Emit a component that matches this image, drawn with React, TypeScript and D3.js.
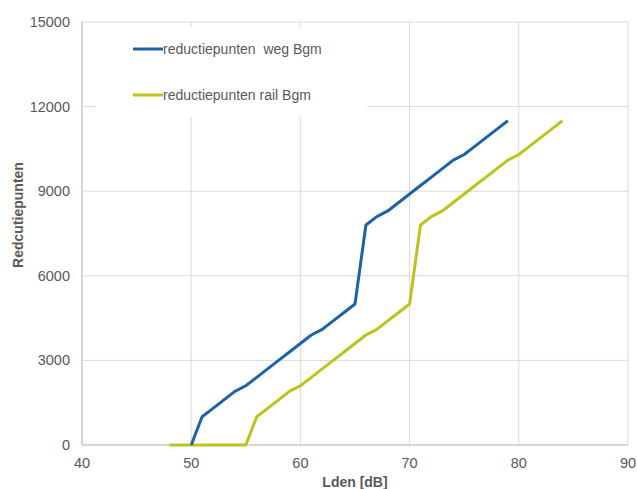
import React from "react";
import * as d3 from "d3";

const wegX = [50, 51, 52, 53, 54, 55, 56, 57, 58, 59, 60, 61, 62, 63, 64, 65, 66, 67, 68, 69, 70, 71, 72, 73, 74, 75, 76, 77, 78, 79];
const wegY = [0, 1000, 1300, 1600, 1900, 2100, 2400, 2700, 3000, 3300, 3600, 3900, 4100, 4400, 4700, 5000, 7800, 8100, 8300, 8600, 8900, 9200, 9500, 9800, 10100, 10300, 10600, 10900, 11200, 11500];
const railX = [48, 49, 50, 51, 52, 53, 54, 55, 56, 57, 58, 59, 60, 61, 62, 63, 64, 65, 66, 67, 68, 69, 70, 71, 72, 73, 74, 75, 76, 77, 78, 79, 80, 81, 82, 83, 84];
const railY = [0, 0, 0, 0, 0, 0, 0, 0, 1000, 1300, 1600, 1900, 2100, 2400, 2700, 3000, 3300, 3600, 3900, 4100, 4400, 4700, 5000, 7800, 8100, 8300, 8600, 8900, 9200, 9500, 9800, 10100, 10300, 10600, 10900, 11200, 11500];
const xTicks = [40, 50, 60, 70, 80, 90];
const yTicks = [0, 3000, 6000, 9000, 12000, 15000];
const seriesNames = ["reductiepunten  weg Bgm", "reductiepunten rail Bgm"];
const seriesColors = ["#1c62a8", "#bcc31c"];

export default function App() {
  const W = 637, H = 489;
  const x = d3.scaleLinear().domain([40, 90]).range([82, 628]);
  const y = d3.scaleLinear().domain([0, 15000]).range([445, 22]);
  const line = d3.line<[number, number]>().x(d => x(d[0])).y(d => y(d[1]));
  const weg: [number, number][] = wegX.map((v, i) => [v, wegY[i]]);
  const rail: [number, number][] = railX.map((v, i) => [v, railY[i]]);
  const font = "'Liberation Sans', Arial, sans-serif";
  return (
    <svg width={W} height={H} style={{ position: "absolute", left: 0, top: 0, background: "#fff" }} fontFamily={font}>
      <rect x={0} y={0} width={W} height={H} fill="#fff" />
      {xTicks.map(t => (
        <line key={"gx" + t} x1={x(t)} x2={x(t)} y1={y(15000)} y2={y(0)} stroke="#d9d9d9" strokeWidth={1} />
      ))}
      {yTicks.map(t => (
        <line key={"gy" + t} x1={x(40)} x2={x(90)} y1={y(t)} y2={y(t)} stroke="#d9d9d9" strokeWidth={1} />
      ))}
      <line x1={x(40)} x2={x(40)} y1={y(15000)} y2={y(0)} stroke="#bfbfbf" strokeWidth={1} />
      <line x1={x(40)} x2={x(90)} y1={y(0)} y2={y(0)} stroke="#bfbfbf" strokeWidth={1} />
      <rect x={95} y={27} width={272} height={90} fill="#fff" />
      <path d={line(rail) || ""} fill="none" stroke={seriesColors[1]} strokeWidth={3} strokeLinejoin="round" />
      <path d={line(weg) || ""} fill="none" stroke={seriesColors[0]} strokeWidth={3} strokeLinejoin="round" />
      {seriesNames.map((n, i) => (
        <g key={n}>
          <line x1={133} x2={163} y1={49 + i * 46} y2={49 + i * 46} stroke={seriesColors[i]} strokeWidth={3} />
          <text x={163} y={54 + i * 46} fontSize={14} fill="#595959" style={{ whiteSpace: "pre" }}>{n}</text>
        </g>
      ))}
      {yTicks.map(t => (
        <text key={"ty" + t} x={70} y={y(t) + 5} textAnchor="end" fontSize={14.5} fill="#595959">{t}</text>
      ))}
      {xTicks.map(t => (
        <text key={"tx" + t} x={x(t)} y={468} textAnchor="middle" fontSize={14.5} fill="#595959">{t}</text>
      ))}
      <text x={355} y={487} textAnchor="middle" fontSize={14} fontWeight="bold" fill="#595959">Lden [dB]</text>
      <text transform="translate(23,215) rotate(-90)" textAnchor="middle" fontSize={14} fontWeight="bold" fill="#595959">Redcutiepunten</text>
    </svg>
  );
}
